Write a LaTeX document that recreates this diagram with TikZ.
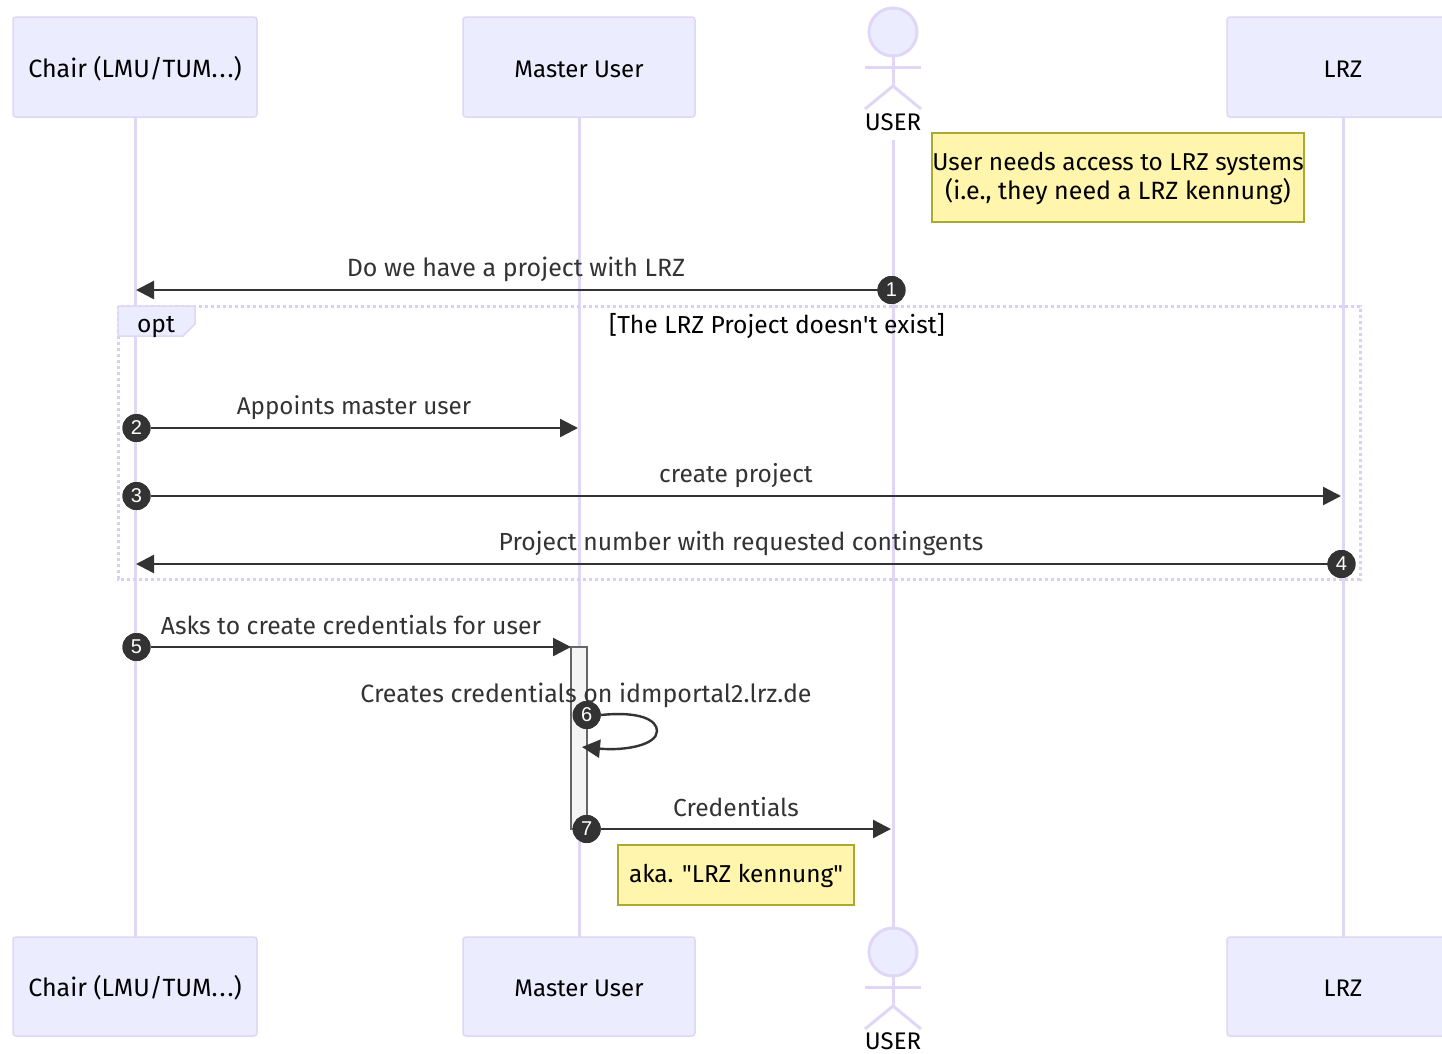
\documentclass[tikz,border=0pt]{standalone}
\usepackage{fontspec}
\newfontfamily\labelfont{Fira Sans}
\newfontfamily\digitfont{Liberation Sans}
\usetikzlibrary{arrows.meta,calc}
\definecolor{actfill}{HTML}{ECECFF}
\definecolor{actline}{HTML}{E0D6F5}
\definecolor{frameline}{HTML}{D9CFF5}
\definecolor{notefill}{HTML}{FFF5AD}
\definecolor{noteline}{HTML}{AAAA33}
\definecolor{ink}{HTML}{333333}
\definecolor{barfill}{HTML}{F4F4F4}
\definecolor{barline}{HTML}{666666}
\tikzset{
  x=1pt,y=-1pt,
  every node/.style={inner sep=0pt,outer sep=0pt},
  actorbox/.style={draw=actline,fill=actfill,line width=1.5pt,rounded corners=3pt,anchor=north west},
  actorlabel/.style={text=black,font=\labelfont\fontsize{24}{28}\selectfont,anchor=base},
  lifeline/.style={draw=actline,line width=3pt},
  stick/.style={draw=actline,line width=3pt},
  msg/.style={draw=ink,line width=2.4pt,-{Triangle[length=18pt,width=18pt]}},
  msgtext/.style={text=ink,font=\labelfont\fontsize{#1}{28}\selectfont,anchor=base},
  badge/.style={circle,fill=ink,text=white,minimum size=28pt,font=\digitfont\fontsize{20}{22}\selectfont},
  notebox/.style={draw=noteline,fill=notefill,line width=1.5pt,anchor=north west},
  notetext/.style={text=black,font=\labelfont\fontsize{#1}{29}\selectfont,align=center},
  framelabel/.style={text=black,font=\labelfont\fontsize{24.6}{28}\selectfont,anchor=base},
}
\newcommand{\sizedbox}[7]{\node[actorbox,minimum width=#4pt,minimum height=#5pt] (#1) at (#2,#3) {}; \node[actorlabel] (#1t) at ($(#2,#3)+(#4/2,#6)$) {#7};}
\newcommand{\chairtext}{{\fontsize{25}{28}\selectfont Chair (LMU/TUM.\kern2pt.\kern2pt.)}}
\newcommand{\stickman}[3]{%
  \node[circle,draw=actline,fill=actfill,line width=3pt,minimum size=48pt] (#1head) at (893,#2) {};
  \coordinate (#1hip) at (893,#2+54);
  \coordinate (#1la) at (865,#2+35);
  \coordinate (#1ra) at (921,#2+35);
  \coordinate (#1ll) at (865,#2+77);
  \coordinate (#1rl) at (921,#2+77);
  \draw[stick] (#1head.south) -- (#1hip);
  \draw[stick] (#1la) -- (#1ra);
  \draw[stick] (#1ll) -- (#1hip) -- (#1rl);
  \node[actorlabel] (#1t) at (893,#3) {USER};}
\begin{document}
\begin{tikzpicture}
\useasboundingbox (0,0) rectangle (1442,1053);
\clip (0,0) rectangle (1442,1053);
% actors
\sizedbox{cha}{13}{17}{244}{100}{60}{\chairtext}
\sizedbox{mas}{463}{17}{232}{100}{60}{Master User}
\sizedbox{lrz}{1227}{17}{232}{100}{60}{LRZ}
\sizedbox{chb}{13}{937}{244}{99}{59.5}{\chairtext}
\sizedbox{mab}{463}{937}{232}{99}{59.5}{Master User}
\sizedbox{lrb}{1227}{937}{232}{99}{59.5}{LRZ}
\stickman{ua}{32}{130.5}
\stickman{ub}{952}{1049}
% lifelines
\coordinate (ual) at (893,140);
\coordinate (ubl) at (893,928);
\draw[lifeline] (cha.south) -- (chb.north);
\draw[lifeline] (mas.south) -- (mab.north);
\draw[lifeline] (ual) -- (ubl);
\draw[lifeline] (lrz.south) -- (lrb.north);
% note 1
\node[notebox,minimum width=372pt,minimum height=89pt] (n1) at (932,133) {};
\node[notetext=24.4,yshift=-1pt] (n1t) at (n1.center) {User needs access to LRZ systems\\{\fontsize{25}{29}\selectfont (i.e., they need a LRZ kennung)}};
% frame
\draw[frameline,line width=3pt,dash pattern=on 3.2pt off 2.8pt] (118,306) rectangle (1360,579);
\fill[actfill,draw=actline,line width=1.5pt] (118,306) -- (195,306) -- (195,324) -- (183,336) -- (118,336) -- cycle;
\node[framelabel] (opt) at (156,332) {opt};
\node[framelabel] (cond) at (777,333) {[The LRZ Project doesn't exist]};
% activation
\node[draw=barline,fill=barfill,line width=1.5pt,minimum width=16pt,minimum height=182pt,anchor=north west] (bar) at (571,647) {};
% endpoints
\coordinate (a1) at (136,290);
\coordinate (a2) at (578,428);
\coordinate (a3) at (1341,496);
\coordinate (a4) at (136,564);
\coordinate (a5) at (571,647);
\coordinate (a6) at (582,747);
\coordinate (a7) at (891,829);
% badges
\node[badge] (b1) at (891.5,290) {1};
\node[badge] (b2) at (136.5,428) {2};
\node[badge] (b3) at (136.5,496) {3};
\node[badge] (b4) at (1341.5,564) {4};
\node[badge] (b5) at (136.5,647) {5};
\node[badge] (b6) at (586.7,715) {6};
\node[badge] (b7) at (586.7,829) {7};
% messages
\draw[msg] (b1) -- (a1);
\draw[msg] (b2) -- (a2);
\draw[msg] (b3) -- (a3);
\draw[msg] (b4) -- (a4);
\draw[msg] (b5) -- (a5);
\draw[msg] (b6.east) .. controls (640,711) and (657,720) .. (657,731) .. controls (657,745) and (625,751) .. (a6);
\draw[msg] (b7) -- (a7);
\node[badge] at (b1) {1};
\node[badge] at (b2) {2};
\node[badge] at (b3) {3};
\node[badge] at (b4) {4};
\node[badge] at (b5) {5};
\node[badge] at (b6) {6};
\node[badge] at (b7) {7};
\node[msgtext=25] (t1) at (516,276) {Do we have a project with LRZ};
\node[msgtext=24.2] (t2) at (354,414) {Appoints master user};
\node[msgtext=24.5] (t3) at (736,482) {create project};
\node[msgtext=24.7] (t4) at (741,550) {Project number with requested contingents};
\node[msgtext=24.7] (t5) at (351,634) {Asks to create credentials for user};
\node[msgtext=25] (t6) at (586,702) {Creates credentials on idmportal2.lrz.de};
\node[msgtext=24.6] (t7) at (736,816) {Credentials};
% note 2
\node[notebox,minimum width=236pt,minimum height=60pt] (n2) at (618,845) {};
\node[notetext=24.4,yshift=-1pt] (n2t) at (n2.center) {aka. "LRZ kennung"};
\end{tikzpicture}
\end{document}
